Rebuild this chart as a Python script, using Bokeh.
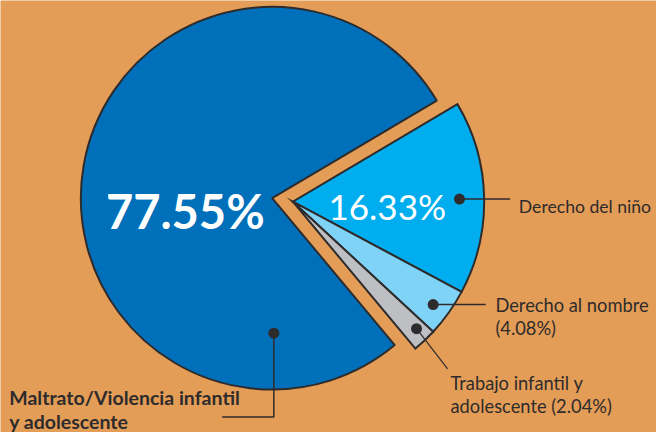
import numpy as np
from bokeh.plotting import figure
from bokeh.models import Range1d
from bokeh.core.properties import value
from bokeh.embed import file_html
from bokeh.resources import INLINE

# ---- data ----
categories = ["Maltrato/Violencia infantil y adolescente", "Derecho del niño",
              "Derecho al nombre", "Trabajo infantil y adolescente"]
percents = [77.55, 16.33, 4.08, 2.04]
colors = ["#0070BA", "#00AEEF", "#7FD3F7", "#BEBFC3"]

BG = "#E49D57"
DARK = "#2E2B2C"
FONT = value("Lato")

W, H = 656, 432
p = figure(width=W, height=H, x_range=Range1d(0, 672), y_range=Range1d(0, 448),
           output_backend="svg", toolbar_location=None, min_border=0)
p.axis.visible = False
p.grid.visible = False
p.outline_line_color = None
p.background_fill_color = BG
p.border_fill_color = BG


def Y(yref):
    return 448 - yref


R = 196.0
angles = np.array(percents) / sum(percents) * 2 * np.pi
rot = np.deg2rad(30.66)

# big slice (not exploded)
bcx, bcy = 278.3, Y(205)
p.wedge(x=bcx, y=bcy, radius=R, start_angle=rot, end_angle=rot + angles[0],
        fill_color=colors[0], line_color=DARK, line_width=2)

# small slices (exploded together)
small = angles[1:]
ends = rot - np.concatenate([[0], np.cumsum(small)[:-1]])
starts = ends - small
mid_grp = rot - small.sum() / 2
off = 21.5
scx = bcx + off * np.cos(mid_grp)
scy = bcy + off * np.sin(mid_grp)
p.wedge(x=[scx] * 3, y=[scy] * 3, radius=R, start_angle=list(starts), end_angle=list(ends),
        fill_color=colors[1:], line_color=DARK, line_width=2, line_join="miter")

# dots
def polar(cx, cy, r, a_deg):
    a = np.deg2rad(a_deg)
    return cx + r * np.cos(a), cy + r * np.sin(a)

d1 = polar(scx, scy, 170.7, 0.9)
d2 = polar(scx, scy, 179.0, -36.6)
d3 = polar(scx, scy, 182.7, -46.1)
d0 = polar(bcx, bcy, 140.0, -89.3)

# leader lines
p.line([d1[0], 522], [d1[1], d1[1]], line_color=DARK, line_width=1.5)
p.line([d2[0], 497], [d2[1], d2[1]], line_color=DARK, line_width=1.5)
p.line([d3[0], 458], [d3[1], Y(382)], line_color=DARK, line_width=1.2)
p.line([d0[0], d0[0], 227], [d0[1], Y(432), Y(432)], line_color=DARK, line_width=1.5)

p.scatter([d0[0], d1[0], d2[0], d3[0]], [d0[1], d1[1], d2[1], d3[1]],
          size=11, fill_color=DARK, line_color=None)

# inner percentage labels
p.text([108], [Y(218)], text=[f"{percents[0]:.2f}%"], text_font=FONT, text_font_style="bold",
       text_font_size="47px", text_color="white", text_align="left", text_baseline="middle")
p.text([336], [Y(213)], text=[f"{percents[1]:.2f}%"], text_font=FONT,
       text_font_size="35px", text_color="white", text_align="left", text_baseline="middle")

# outer labels
lab_kw = dict(text_font=FONT, text_font_size="18.3px", text_color=DARK,
              text_align="left", text_baseline="middle")
p.text([531], [Y(214)], text=["Derecho del niño"], text_font=FONT, text_font_size="17.6px",
       text_color=DARK, text_align="left", text_baseline="middle")
p.text([507, 507], [Y(316), Y(340)], text=["Derecho al nombre", f"({percents[2]:.2f}%)"], **lab_kw)
p.text([461, 461], [Y(397), Y(420)], text=["Trabajo infantil y", f"adolescente ({percents[3]:.2f}%)"], **lab_kw)
p.text([9, 9], [Y(412), Y(437)], text=["Maltrato/Violencia infantil", "y adolescente"],
       text_font=FONT, text_font_style="bold", text_font_size="19.5px", text_color=DARK,
       text_align="left", text_baseline="middle")

open("out.html", "w").write(file_html(p, INLINE))
